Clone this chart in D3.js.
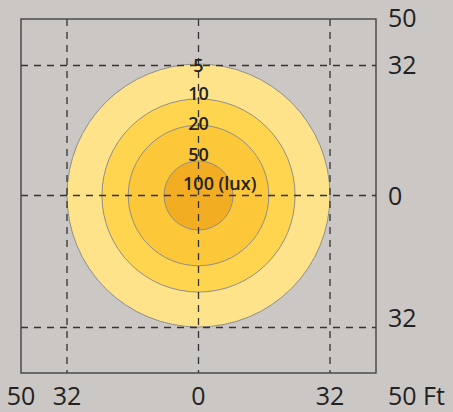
<!DOCTYPE html>
<html><head><meta charset="utf-8">
<script src="https://cdn.jsdelivr.net/npm/d3@7"></script>
<style>
html,body{margin:0;padding:0;background:#cbc7c4;}
svg{display:block;}
</style></head>
<body>
<svg id="chart" width="453" height="412"></svg>
<script>
// Data
const ringLux = [5, 10, 20, 50];            // iso-lux ring boundaries
const ringRadiusFt = [32, 23.5, 17.1, 8.4]; // radius of each ring (ft)
const ringColors = ["#ffe38a", "#ffd44f", "#fdc73a", "#f2ad22"];
const labelTexts = ["5", "10", "20", "50", "100"];
const labelFt = [30.3, 23.4, 16.2, 8.6, 1.4]; // label baseline position (ft above centre)
const gridFt = [-32, 0, 32];
const xTickLabels = ["50", "32", "0", "32", "50 Ft"];
const xTickFt = [-50, -32, 0, 32, 50];
const yTickLabels = ["50", "32", "0", "32", "50 Ft"];
const yTickFt = [50, 32, 0, -32, -50];

const svg = d3.select("#chart");
const x = d3.scaleLinear().domain([-50, -32, 0, 32, 50]).range([21, 67, 198.5, 330, 376]);
const y = d3.scaleLinear().domain([50, 32, 0, -32, -50]).range([19, 65.5, 195.5, 327.5, 373]);

const font = "'Open Sans', 'Noto Sans', sans-serif";

// rings
svg.append("g").selectAll("circle").data(ringRadiusFt).join("circle")
  .attr("cx", x(0)).attr("cy", y(0))
  .attr("r", d => x(d) - x(0))
  .attr("fill", (d, i) => ringColors[i])
  .attr("stroke", "#8e8e8e").attr("stroke-width", 1);

// dashed grid
const g = svg.append("g").attr("stroke", "#333").attr("stroke-width", 1.3).attr("stroke-dasharray", "7,6");
g.selectAll("line.v").data(gridFt).join("line").attr("class", "v")
  .attr("x1", d => x(d)).attr("x2", d => x(d)).attr("y1", y(50)).attr("y2", y(-50));
g.selectAll("line.h").data(gridFt).join("line").attr("class", "h")
  .attr("y1", d => y(d)).attr("y2", d => y(d)).attr("x1", x(-50)).attr("x2", x(50));

// frame
svg.append("rect").attr("x", x(-50)).attr("y", y(50))
  .attr("width", x(50) - x(-50)).attr("height", y(-50) - y(50))
  .attr("fill", "none").attr("stroke", "#444").attr("stroke-width", 1.4);

// lux labels
const lab = svg.append("g").attr("font-family", font).attr("font-size", 18)
  .attr("font-weight", 600).attr("fill", "#222");
labelTexts.forEach((t, i) => {
  const el = lab.append("text").attr("y", y(labelFt[i])).attr("x", x(0)).text(t);
  if (i === labelTexts.length - 1) {
    const w = el.node().getComputedTextLength();
    el.attr("x", x(0) - w / 2);
    el.append("tspan").text(" (lux)");
  } else {
    el.attr("text-anchor", "middle");
  }
});

// axis labels
const ax = svg.append("g").attr("font-family", font).attr("font-size", 25).attr("fill", "#222");
xTickLabels.forEach((t, i) => {
  const last = i === xTickLabels.length - 1;
  ax.append("text").attr("x", last ? 388 : x(xTickFt[i]))
    .attr("y", 405).attr("text-anchor", last ? "start" : "middle").text(t);
});
const yOff = [8, 8, 9, -1];
yTickLabels.slice(0, 4).forEach((t, i) => {
  ax.append("text").attr("x", 388).attr("y", y(yTickFt[i]) + yOff[i]).text(t);
});
</script>
</body></html>
